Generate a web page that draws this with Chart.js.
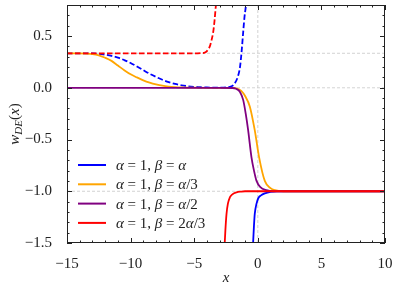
<!DOCTYPE html>
<html>
<head>
<meta charset="utf-8">
<script src="https://cdn.jsdelivr.net/npm/chart.js@4"></script>
<style>
  html, body { margin: 0; padding: 0; background: #fff; }
  #wrap { width: 399px; height: 290px; }
</style>
</head>
<body>
<div id="wrap"><canvas id="chart" width="399" height="290"></canvas></div>
<script>
// values
const blueDashX = [-15, -13, -12.5, -12, -11.5, -11, -10.5, -10, -9.5, -9, -8.5, -8, -7.5, -7, -6.5, -6, -5.5, -5, -4.5, -4, -3.5, -3, -2.5, -2.2, -1.9, -1.57, -1.4, -1.28, -1.15, -1.05, -0.94, -0.9];
const blueDashY = [0.333, 0.332, 0.328, 0.32, 0.308, 0.292, 0.268, 0.24, 0.205, 0.17, 0.135, 0.105, 0.078, 0.055, 0.037, 0.024, 0.015, 0.009, 0.005, 0.003, 0.002, 0.002, 0.004, 0.01, 0.03, 0.107, 0.2, 0.34, 0.535, 0.68, 0.79, 0.85];
const blueX = [-0.42, -0.37, -0.3, -0.24, -0.1, 0.03, 0.25, 0.55, 1, 1.5, 10];
const blueY = [-1.6, -1.5, -1.33, -1.22, -1.12, -1.07, -1.04, -1.02, -1.005, -1, -1];

const orangeX = [-15, -14, -13.5, -13, -12.5, -12, -11.5, -11, -10.5, -10, -9.5, -9, -8.5, -8, -7.5, -7, -6.5, -6, -5, -4, -2, -1.68, -1.3, -1, -0.63, -0.24, 0.1, 0.55, 1, 1.34, 2, 3, 10];
const orangeY = [0.333, 0.332, 0.33, 0.325, 0.313, 0.29, 0.26, 0.215, 0.17, 0.13, 0.1, 0.072, 0.05, 0.033, 0.02, 0.012, 0.007, 0.004, 0.001, 0, 0, -0.005, -0.03, -0.08, -0.18, -0.41, -0.67, -0.9, -0.97, -0.99, -1, -1, -1];

const purpleX = [-15, -3, -2, -1.7, -1.4, -1.15, -0.95, -0.76, -0.5, -0.3, -0.1, 0.2, 0.68, 1.2, 2, 10];
const purpleY = [0, 0, -0.002, -0.01, -0.04, -0.117, -0.25, -0.41, -0.67, -0.8, -0.9, -0.96, -0.99, -1, -1, -1];

const redDashX = [-15, -5, -4.5, -4.17, -4, -3.9, -3.77, -3.64, -3.51, -3.4, -3.3, -3.25];
const redDashY = [0.333, 0.333, 0.335, 0.34, 0.355, 0.375, 0.4, 0.46, 0.535, 0.65, 0.79, 0.85];
const redX = [-2.65, -2.6, -2.55, -2.46, -2.35, -2.2, -2, -1.67, -1.3, -1, 10];
const redY = [-1.6, -1.5, -1.38, -1.22, -1.12, -1.06, -1.03, -1.01, -1.003, -1, -1];

const legendLabels = ["α = 1, β = α", "α = 1, β = α/3", "α = 1, β = α/2", "α = 1, β = 2α/3"];
const xTicks = [-15, -10, -5, 0, 5, 10];
const yTicks = [-1.5, -1.0, -0.5, 0.0, 0.5];
const refLinesX = [0];
const refLinesY = [1 / 3, 0, -1];

const BLUE = "#0000ff";
const ORANGE = "#ffa500";
const PURPLE = "#800080";
const RED = "#ff0000";
const seriesColors = [BLUE, ORANGE, PURPLE, RED];
const SERIF = "'Liberation Serif', 'DejaVu Serif', serif";

const pts = (xs, ys) => xs.map((x, i) => ({ x, y: ys[i] }));
const fmt = (v, d) => (v < 0 ? "\u2212" : "") + Math.abs(v).toFixed(d);

function line(ctx, x1, y1, x2, y2) {
  ctx.beginPath();
  ctx.moveTo(x1, y1);
  ctx.lineTo(x2, y2);
  ctx.stroke();
}

// draws a string with letters in italic, the rest upright (math style)
function drawMath(ctx, str, x, y, size) {
  for (const ch of str) {
    const italic = /[a-zα-ω]/i.test(ch);
    ctx.font = (italic ? "italic " : "") + size + "px " + SERIF;
    ctx.fillText(ch, x, y);
    x += ctx.measureText(ch).width;
  }
  return x;
}

function mathWidth(ctx, str, size) {
  let w = 0;
  for (const ch of str) {
    const italic = /[a-zα-ω]/i.test(ch);
    ctx.font = (italic ? "italic " : "") + size + "px " + SERIF;
    w += ctx.measureText(ch).width;
  }
  return w;
}

const decor = {
  id: "decor",
  beforeDatasetsDraw(chart) {
    const { ctx, chartArea: a, scales } = chart;
    ctx.save();
    ctx.strokeStyle = "#c8c8c8";
    ctx.lineWidth = 0.8;
    ctx.setLineDash([3, 2]);
    refLinesX.forEach((v) => {
      const px = scales.x.getPixelForValue(v);
      line(ctx, px, a.top, px, a.bottom);
    });
    refLinesY.forEach((v) => {
      const py = scales.y.getPixelForValue(v);
      line(ctx, a.left, py, a.right, py);
    });
    ctx.restore();
  },
  afterDatasetsDraw(chart) {
    const { ctx, chartArea: a, scales } = chart;
    ctx.save();

    // legend
    ctx.textBaseline = "middle";
    ctx.fillStyle = "#222";
    legendLabels.forEach((lab, i) => {
      const yy = 165 + i * 19.3;
      ctx.strokeStyle = seriesColors[i];
      ctx.lineWidth = 2;
      line(ctx, 78, yy, 106, yy);
      drawMath(ctx, lab, 116, yy + 1, 15);
    });

    // frame
    ctx.strokeStyle = "#222";
    ctx.lineWidth = 1;
    ctx.strokeRect(a.left + 0.5, a.top + 0.5, a.right - a.left - 1, a.bottom - a.top - 1);

    // inward ticks on all sides
    const xs = scales.x, ys = scales.y;
    for (let v = -15; v <= 10; v++) {
      const px = Math.round(xs.getPixelForValue(v)) + 0.5;
      const len = xTicks.includes(v) ? 5 : 2.5;
      line(ctx, px, a.bottom, px, a.bottom - len);
      line(ctx, px, a.top, px, a.top + len);
    }
    for (let k = -15; k <= 8; k++) {
      const v = k / 10;
      const py = Math.round(ys.getPixelForValue(v)) + 0.5;
      const len = k % 5 === 0 ? 5 : 2.5;
      line(ctx, a.left, py, a.left + len, py);
      line(ctx, a.right, py, a.right - len, py);
    }

    // axis titles
    ctx.fillStyle = "#222";
    ctx.textBaseline = "alphabetic";
    const cx = (a.left + a.right) / 2;
    ctx.font = "italic 15px " + SERIF;
    ctx.textAlign = "center";
    ctx.fillText("x", cx, 282);

    ctx.textAlign = "left";
    ctx.translate(19, (a.top + a.bottom) / 2);
    ctx.rotate(-Math.PI / 2);
    const w = mathWidth(ctx, "w", 15) + mathWidth(ctx, "DE", 11) + mathWidth(ctx, "(x)", 15);
    let x = -w / 2;
    x = drawMath(ctx, "w", x, 0, 15);
    x = drawMath(ctx, "DE", x, 3, 11);
    drawMath(ctx, "(x)", x, 0, 15);
    ctx.restore();
  },
};

const ds = (data, color, dashed, order) => ({
  data,
  borderColor: color,
  borderWidth: 1.8,
  borderDash: dashed ? [5.5, 2.5] : [],
  pointRadius: 0,
  cubicInterpolationMode: "monotone",
  clip: 0,
  order,
});

new Chart(document.getElementById("chart"), {
  type: "line",
  data: {
    datasets: [
      ds(pts(blueDashX, blueDashY), BLUE, true, 3),
      ds(pts(blueX, blueY), BLUE, false, 3),
      ds(pts(orangeX, orangeY), ORANGE, false, 2),
      ds(pts(purpleX, purpleY), PURPLE, false, 1),
      ds(pts(redDashX, redDashY), RED, true, 0),
      ds(pts(redX, redY), RED, false, 0),
    ],
  },
  options: {
    responsive: false,
    animation: false,
    layout: { padding: { left: 0, right: 14, top: 5, bottom: 0 } },
    plugins: { legend: { display: false }, tooltip: { enabled: false } },
    scales: {
      x: {
        type: "linear",
        min: -15,
        max: 10,
        grid: { display: false },
        border: { display: false },
        afterBuildTicks: (s) => { s.ticks = xTicks.map((v) => ({ value: v })); },
        afterFit: (s) => { s.height = 47; s.paddingLeft = 0; s.paddingRight = 0; },
        ticks: {
          padding: 4,
          color: "#222",
          font: { family: SERIF, size: 15 },
          maxRotation: 0,
          callback: (v) => fmt(v, 0),
        },
      },
      y: {
        type: "linear",
        min: -1.5,
        max: 0.8,
        grid: { display: false },
        border: { display: false },
        afterBuildTicks: (s) => { s.ticks = yTicks.map((v) => ({ value: v })); },
        afterFit: (s) => { s.width = 67; s.paddingTop = 0; s.paddingBottom = 0; },
        ticks: {
          padding: 7,
          color: "#222",
          font: { family: SERIF, size: 15 },
          callback: (v) => fmt(v, 1),
        },
      },
    },
  },
  plugins: [decor],
});
</script>
</body>
</html>
